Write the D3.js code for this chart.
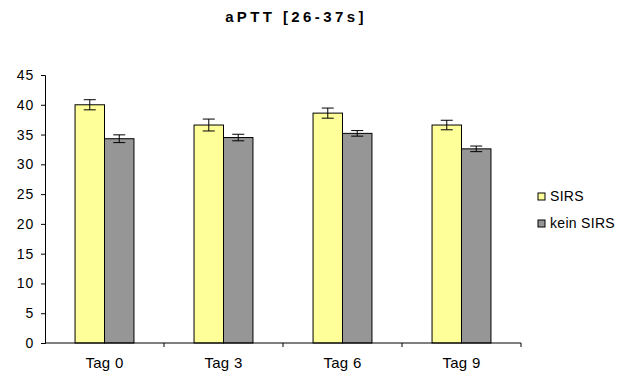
<!DOCTYPE html>
<html>
<head>
<meta charset="utf-8">
<script src="https://cdn.jsdelivr.net/npm/d3@7"></script>
<style>
  body { margin: 0; background: #fff; }
  svg { font-family: "Liberation Sans", Arial, sans-serif; }
</style>
</head>
<body>
<svg id="chart" width="622" height="376"></svg>
<script>
// data
const categories = ["Tag 0", "Tag 3", "Tag 6", "Tag 9"];
const series = ["SIRS", "kein SIRS"];
const sirs = [40.0, 36.6, 38.6, 36.6];
const sirsErr = [0.85, 1.0, 0.85, 0.8];
const keinSirs = [34.3, 34.5, 35.2, 32.6];
const keinSirsErr = [0.65, 0.55, 0.47, 0.47];
const yTicks = [0, 5, 10, 15, 20, 25, 30, 35, 40, 45];
const colors = ["#FFFF99", "#969696"];

const values = [sirs, keinSirs];
const errors = [sirsErr, keinSirsErr];

const svg = d3.select("#chart");
const plotLeft = 45, plotRight = 521, plotTop = 75, plotBottom = 343;

const x = d3.scaleBand().domain(categories).range([plotLeft, plotRight]).padding(0);
const x1 = d3.scaleBand().domain(series).range([0, x.bandwidth()])
    .paddingInner(0).paddingOuter(1.02);
const y = d3.scaleLinear().domain([0, 45]).range([plotBottom, plotTop]);

// title
svg.append("text")
    .attr("x", 296)
    .attr("y", 22)
    .attr("text-anchor", "middle")
    .attr("font-size", "15px")
    .attr("font-weight", "bold")
    .attr("letter-spacing", "3.4px")
    .text("aPTT [26-37s]");

// y axis
const yAxis = svg.append("g")
    .attr("transform", `translate(${plotLeft},0)`)
    .call(d3.axisLeft(y).tickValues(yTicks).tickSize(4).tickPadding(7));
yAxis.select(".domain").attr("stroke", "#000");
yAxis.selectAll(".tick line").attr("stroke", "#000");
yAxis.selectAll(".tick text")
    .attr("font-size", "14px")
    .attr("letter-spacing", "0.8px")
    .attr("font-family", "Liberation Sans, Arial, sans-serif")
    .attr("fill", "#000");

// bars
const rows = categories.map((c, i) => ({ cat: c, i: i }));
const groups = svg.append("g").selectAll("g")
    .data(rows)
    .join("g")
    .attr("transform", d => `translate(${x(d.cat)},0)`);

series.forEach((s, k) => {
    groups.append("rect")
        .attr("x", x1(s))
        .attr("y", d => y(values[k][d.i]))
        .attr("width", x1.bandwidth())
        .attr("height", d => plotBottom - y(values[k][d.i]))
        .attr("fill", colors[k])
        .attr("stroke", "#000")
        .attr("stroke-width", 1);

    // error bars
    const cx = x1(s) + x1.bandwidth() / 2;
    groups.append("line")
        .attr("x1", cx).attr("x2", cx)
        .attr("y1", d => y(values[k][d.i] + errors[k][d.i]))
        .attr("y2", d => y(values[k][d.i] - errors[k][d.i]))
        .attr("stroke", "#000");
    [1, -1].forEach(sign => {
        groups.append("line")
            .attr("x1", cx - 6).attr("x2", cx + 6)
            .attr("y1", d => y(values[k][d.i] + sign * errors[k][d.i]))
            .attr("y2", d => y(values[k][d.i] + sign * errors[k][d.i]))
            .attr("stroke", "#000");
    });
});

// x axis
svg.append("line")
    .attr("x1", plotLeft).attr("x2", plotRight)
    .attr("y1", plotBottom).attr("y2", plotBottom)
    .attr("stroke", "#000");
svg.append("g").selectAll("line")
    .data(categories)
    .join("line")
    .attr("x1", d => x(d) + x.bandwidth())
    .attr("x2", d => x(d) + x.bandwidth())
    .attr("y1", plotBottom).attr("y2", plotBottom + 4)
    .attr("stroke", "#000");
svg.append("g").selectAll("text")
    .data(categories)
    .join("text")
    .attr("x", d => x(d) + x.bandwidth() / 2)
    .attr("y", 368)
    .attr("text-anchor", "middle")
    .attr("font-size", "15px")
    .attr("letter-spacing", "0.3px")
    .text(d => d);

// legend
const legend = svg.append("g").selectAll("g")
    .data(series)
    .join("g")
    .attr("transform", (d, i) => `translate(538,${193 + i * 27})`);
legend.append("rect")
    .attr("width", 7).attr("height", 7)
    .attr("fill", (d, i) => colors[i])
    .attr("stroke", "#000");
legend.append("text")
    .attr("x", 12)
    .attr("y", 8)
    .attr("font-size", "14px")
    .attr("letter-spacing", "0.3px")
    .text(d => d);
</script>
</body>
</html>
